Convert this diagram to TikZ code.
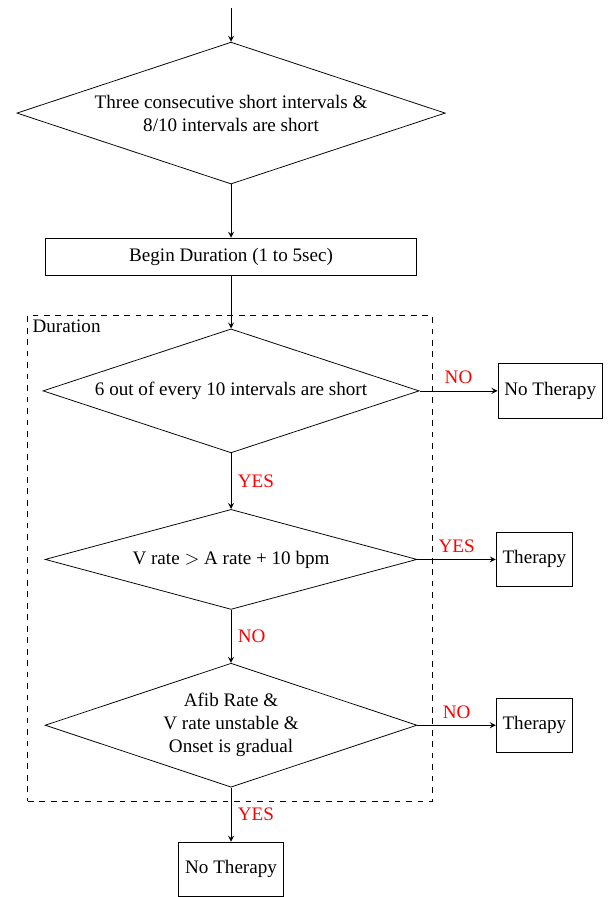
\documentclass[tikz,border=0pt]{standalone}
\usepackage{fontspec}
\setmainfont{Liberation Serif}
\usepackage{tikz}
\usetikzlibrary{shapes.geometric}
\tikzstyle{decision}=[diamond,draw,inner sep=0pt,aspect=3,align=center]
\tikzstyle{block}=[rectangle,draw,minimum height=1cm]
\tikzstyle{answer}=[red]

\begin{document}
\begin{tikzpicture}[->,>=stealth]
  \useasboundingbox (0,0) rectangle (11.26,-16.50);
  \coordinate (start) at (4.25,-0.15);
  \node[decision,minimum width=7.88cm,minimum height=2.61cm] (D-1) at (4.25,-2.08)
    {Three consecutive short intervals \&\\ 8/10 intervals are short};
  \node[block,minimum width=6.83cm,minimum height=0.68cm] (B-1) at (4.25,-4.72)
    {Begin Duration (1 to 5sec)};
  \node[draw,dashed,minimum width=7.435cm,minimum height=8.94cm] (dur) at (4.23,-10.27) {};
  \node[anchor=north west,inner sep=2.5pt] (dur-label) at (dur.north west) {Duration};
  \node[decision,minimum width=6.92cm,minimum height=2.28cm] (D-2) at (4.25,-7.19)
    {6 out of every 10 intervals are short};
  \node[decision,minimum width=6.84cm,minimum height=1.84cm] (D-3) at (4.25,-10.29)
    {V rate $>$ A rate + 10 bpm};
  \node[decision,minimum width=6.84cm,minimum height=2.28cm] (D-4) at (4.25,-13.34)
    {Afib Rate \&\\ V rate unstable \&\\ Onset is gradual};
  \node[block] (N-1) at (10.12,-7.19) {No Therapy};
  \node[block] (T-1) at (9.83,-10.29) {Therapy};
  \node[block] (T-2) at (9.83,-13.34) {Therapy};
  \node[block] (N-2) at (4.25,-15.99) {No Therapy};
  \draw (start) -- (D-1);
  \draw (D-1) -- (B-1);
  \draw (B-1) -- (D-2);
  \foreach \from/\to/\side/\ans in {D-2/N-1/above/NO, D-2/D-3/right/YES,
                                    D-3/T-1/above/YES, D-3/D-4/right/NO,
                                    D-4/T-2/above/NO, D-4/N-2/right/YES}
    \draw (\from) -- node[answer,\side] {\ans} (\to);
\end{tikzpicture}
\end{document}
